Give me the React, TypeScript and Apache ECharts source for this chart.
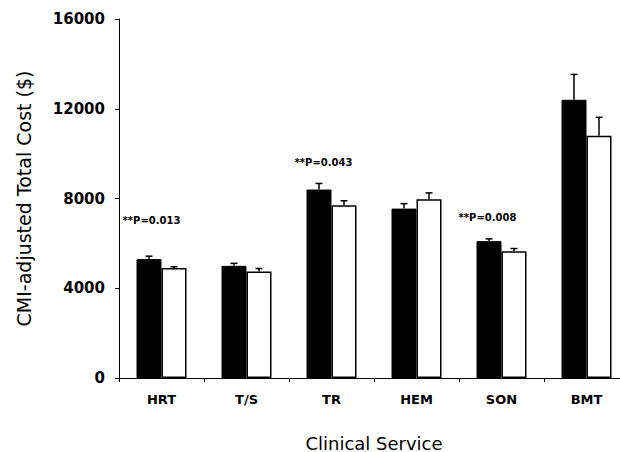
import React, { useEffect, useRef } from "react";
import * as echarts from "echarts";

const categories = ["HRT", "T/S", "TR", "HEM", "SON", "BMT"];
const blackValues = [5300, 5000, 8400, 7550, 6100, 12400];
const blackErrors = [130, 110, 270, 220, 100, 1130];
const whiteValues = [4900, 4750, 7700, 7970, 5650, 10800];
const whiteErrors = [60, 130, 200, 280, 120, 820];
const yTicks = [0, 4000, 8000, 12000, 16000];
const noteCategories = ["HRT", "TR", "SON"];
const noteValues = [7020, 9600, 7170];
const noteTexts = ["**P=0.013", "**P=0.043", "**P=0.008"];

const FONT = "'DejaVu Sans', Verdana, sans-serif";
const BAR_W = 25;

function errorSeries(values: number[], errors: number[], offset: number) {
  return {
    type: "custom",
    z: 5,
    silent: true,
    data: values.map((v, i) => [i, v, v + errors[i]]),
    renderItem: (_params: any, api: any) => {
      const p1 = api.coord([api.value(0), api.value(1)]);
      const p2 = api.coord([api.value(0), api.value(2)]);
      const cx = p1[0] + offset;
      const st = { stroke: "#000", lineWidth: 1.5 };
      return {
        type: "group",
        children: [
          { type: "line", shape: { x1: cx, y1: p1[1], x2: cx, y2: p2[1] }, style: st },
          { type: "line", shape: { x1: cx - 3.5, y1: p2[1], x2: cx + 3.5, y2: p2[1] }, style: st },
        ],
      };
    },
  };
}

export default function App() {
  const ref = useRef<HTMLDivElement>(null);
  useEffect(() => {
    if (!ref.current) return;
    const chart = echarts.init(ref.current, undefined, { renderer: "svg" });
    const noteOffsets = [-10, -8, -14];
    chart.setOption({
      animation: false,
      backgroundColor: "#fff",
      grid: { left: 119, top: 19, bottom: 74, right: -9, outerBoundsMode: "none", containLabel: false },
      xAxis: {
        type: "category",
        data: categories,
        axisLine: { lineStyle: { color: "#000", width: 1 } },
        axisTick: { show: true, length: 4, lineStyle: { color: "#000" } },
        axisLabel: {
          color: "#000",
          fontFamily: FONT,
          fontWeight: "bold",
          fontSize: 13,
          margin: 15,
        },
        name: "Clinical Service",
        nameLocation: "middle",
        nameGap: 56,
        nameTextStyle: { color: "#000", fontFamily: FONT, fontSize: 18 },
      },
      yAxis: {
        type: "value",
        min: yTicks[0],
        max: yTicks[yTicks.length - 1],
        interval: yTicks[1] - yTicks[0],
        splitLine: { show: false },
        axisLine: { show: true, lineStyle: { color: "#000", width: 1 } },
        axisTick: { show: true, length: 4, lineStyle: { color: "#000" } },
        axisLabel: {
          color: "#000",
          fontFamily: FONT,
          fontWeight: "bold",
          fontSize: 15,
          margin: 14,
          formatter: (v: number) => String(v),
        },
        name: "CMI-adjusted Total Cost ($)",
        nameLocation: "middle",
        nameGap: 86,
        nameTextStyle: { color: "#000", fontFamily: FONT, fontSize: 19 },
      },
      series: [
        {
          type: "bar",
          data: blackValues,
          barWidth: BAR_W,
          barGap: "0%",
          itemStyle: { color: "#000", borderColor: "#000", borderWidth: 1 },
        },
        {
          type: "bar",
          data: whiteValues,
          barWidth: BAR_W,
          barGap: "0%",
          itemStyle: { color: "#fff", borderColor: "#000", borderWidth: 1.5 },
        },
        errorSeries(blackValues, blackErrors, -BAR_W / 2),
        errorSeries(whiteValues, whiteErrors, BAR_W / 2),
        {
          type: "custom",
          z: 6,
          silent: true,
          data: noteCategories.map((c, i) => [categories.indexOf(c), noteValues[i]]),
          renderItem: (params: any, api: any) => {
            const p = api.coord([api.value(0), api.value(1)]);
            return {
              type: "text",
              x: p[0] + noteOffsets[params.dataIndex],
              y: p[1],
              style: {
                text: noteTexts[params.dataIndex],
                fill: "#000",
                font: `bold 10px ${FONT}`,
                align: "center",
                verticalAlign: "middle",
              },
            };
          },
        },
      ],
    });
    return () => chart.dispose();
  }, []);
  return <div ref={ref} style={{ width: 620, height: 452, position: "absolute", left: 0, top: 0 }} />;
}
